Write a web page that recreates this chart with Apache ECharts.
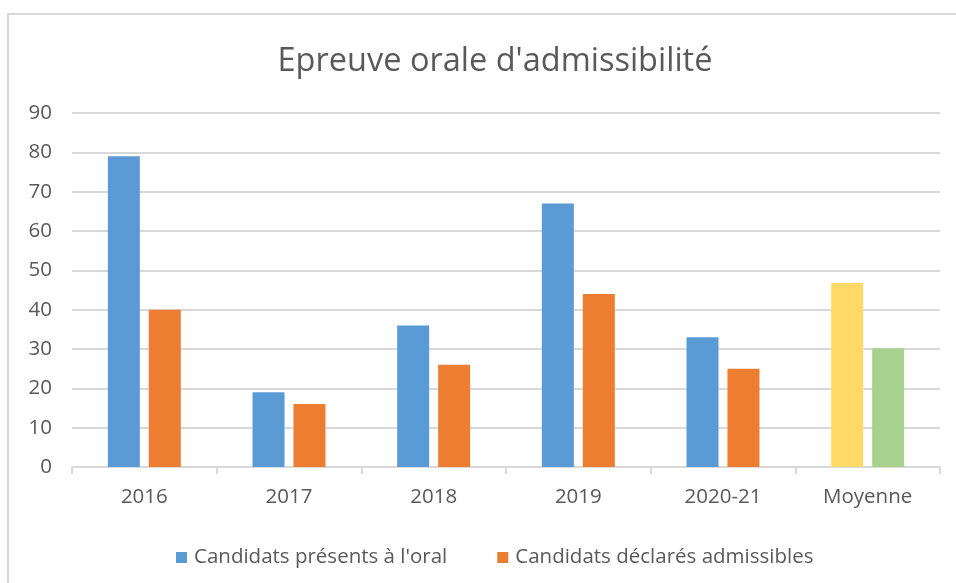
<!DOCTYPE html>
<html>
<head>
<meta charset="utf-8">
<script src="https://cdn.jsdelivr.net/npm/echarts@6/dist/echarts.min.js"></script>
<style>
  html, body { margin: 0; padding: 0; background: #ffffff; }
  #chart { width: 956px; height: 583px; }
</style>
</head>
<body>
<div id="chart"></div>
<script>
// Exam statistics, oral admissibility round
const chartTitle = "Epreuve orale d'admissibilité";
const categories = ['2016', '2017', '2018', '2019', '2020-21', 'Moyenne'];
const presentLabel = "Candidats présents à l'oral";
const admittedLabel = 'Candidats déclarés admissibles';
const presentValues = [79, 19, 36, 67, 33, 46.8];
const admittedValues = [40, 16, 26, 44, 25, 30.2];
const yTicks = { min: 0, max: 90, interval: 10 };

const blue = '#5b9bd5';
const orange = '#ed7d31';
const gold = '#ffd966';
const green = '#a9d18e';
const textGray = '#595959';
const lineGray = '#d9d9d9';
const fontFamily = '"Open Sans", "Noto Sans", sans-serif';

// The last category (average) gets its own colours
function colourData(values, base, lastColour) {
  return values.map((v, i) => i === values.length - 1
    ? { value: v, itemStyle: { color: lastColour } }
    : { value: v, itemStyle: { color: base } });
}

const chart = echarts.init(document.getElementById('chart'), null, { renderer: 'canvas' });
chart.setOption({
  backgroundColor: '#ffffff',
  animation: false,
  textStyle: { fontFamily: fontFamily },
  graphic: [{
    type: 'rect',
    shape: { x: 8, y: 14, width: 1000, height: 700 },
    style: { fill: 'none', stroke: lineGray, lineWidth: 2 },
    silent: true
  }],
  title: {
    text: chartTitle,
    left: 490,
    top: 40,
    textAlign: 'center',
    textStyle: { color: textGray, fontSize: 32.5, fontWeight: 'normal', fontFamily: fontFamily }
  },
  legend: {
    top: 542,
    left: 171,
    itemWidth: 11,
    itemHeight: 11,
    itemGap: 50,
    icon: 'rect',
    textStyle: { color: textGray, fontSize: 20.5, fontFamily: fontFamily, padding: [0, 0, 0, 2] },
    data: [
      { name: presentLabel, itemStyle: { color: blue } },
      { name: admittedLabel, itemStyle: { color: orange } }
    ]
  },
  grid: { left: 72, right: 16, top: 113, bottom: 116, containLabel: false },
  xAxis: {
    type: 'category',
    data: categories,
    axisLine: { lineStyle: { color: lineGray, width: 2 } },
    axisTick: { show: true, length: 7, lineStyle: { color: lineGray, width: 2 } },
    axisLabel: { color: textGray, fontSize: 20.5, margin: 20, fontFamily: fontFamily }
  },
  yAxis: {
    type: 'value',
    min: yTicks.min,
    max: yTicks.max,
    interval: yTicks.interval,
    axisLine: { show: false },
    axisTick: { show: false },
    axisLabel: { color: textGray, fontSize: 20.5, margin: 20, fontFamily: fontFamily },
    splitLine: { lineStyle: { color: lineGray, width: 2 } }
  },
  series: [
    {
      name: presentLabel,
      type: 'bar',
      barWidth: 32,
      barGap: '28%',
      itemStyle: { color: blue },
      data: colourData(presentValues, blue, gold)
    },
    {
      name: admittedLabel,
      type: 'bar',
      barWidth: 32,
      barGap: '28%',
      itemStyle: { color: orange },
      data: colourData(admittedValues, orange, green)
    }
  ]
});
</script>
</body>
</html>
